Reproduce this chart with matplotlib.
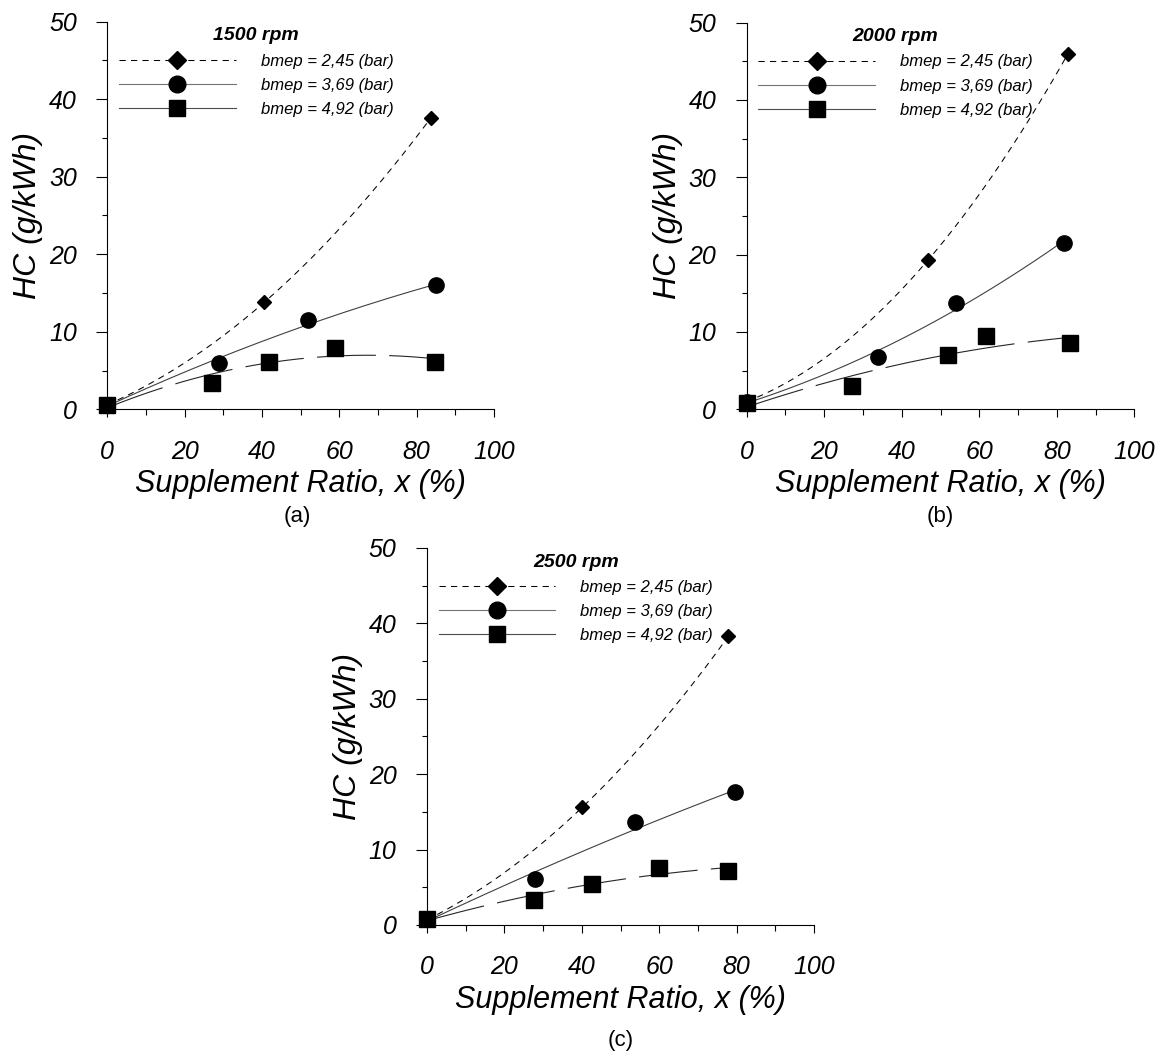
import numpy as np
import matplotlib.pyplot as plt
from matplotlib.lines import Line2D
from matplotlib.ticker import MultipleLocator

plt.rcParams['font.family'] = ['Liberation Sans', 'DejaVu Sans']

# ================================
# Datos
# ================================
rpm_titles = ["1500 rpm", "2000 rpm", "2500 rpm"]
panel_tags = ["(a)", "(b)", "(c)"]
bmep_labels = ["bmep = 2,45 (bar)", "bmep = 3,69 (bar)", "bmep = 4,92 (bar)"]

# 1500 rpm
x_1500_245 = [0, 40.6, 83.7]
hc_1500_245 = [0.6, 13.8, 37.6]
x_1500_369 = [0, 29.0, 51.9, 85.1]
hc_1500_369 = [0.6, 6.0, 11.5, 16.0]
x_1500_492 = [0, 27.0, 41.7, 58.8, 84.8]
hc_1500_492 = [0.6, 3.4, 6.1, 7.9, 6.1]

# 2000 rpm
x_2000_245 = [0, 46.8, 82.8]
hc_2000_245 = [1.0, 19.3, 45.9]
x_2000_369 = [0, 33.8, 53.9, 81.8]
hc_2000_369 = [1.0, 6.7, 13.8, 21.5]
x_2000_492 = [0, 27.1, 51.8, 61.7, 83.5]
hc_2000_492 = [0.8, 3.0, 7.0, 9.5, 8.6]

# 2500 rpm
x_2500_245 = [0, 40.1, 77.9]
hc_2500_245 = [0.7, 15.6, 38.3]
x_2500_369 = [0, 27.8, 53.7, 79.7]
hc_2500_369 = [0.8, 6.1, 13.6, 17.6]
x_2500_492 = [0, 27.6, 42.6, 59.9, 77.7]
hc_2500_492 = [0.8, 3.3, 5.5, 7.5, 7.2]

paneles = [
    [(x_1500_245, hc_1500_245), (x_1500_369, hc_1500_369), (x_1500_492, hc_1500_492)],
    [(x_2000_245, hc_2000_245), (x_2000_369, hc_2000_369), (x_2000_492, hc_2000_492)],
    [(x_2500_245, hc_2500_245), (x_2500_369, hc_2500_369), (x_2500_492, hc_2500_492)],
]

# estilo de cada serie: marcador, tamano, linea, color, ancho
estilos = [
    dict(marker="D", ms=7, ls=(0, (6, 5)), color="k", lw=0.75),
    dict(marker="o", ms=11, ls="-", color="0.25", lw=0.8),
    dict(marker="s", ms=11, ls=(0, (53, 12)), color="0.15", lw=0.8),
]
legend_ls = [(0, (6, 5)), "-", "-"]
legend_ms = [9.5, 12, 12]
legend_color = ["k", "0.45", "0.3"]

posiciones = [
    [0.0923, 0.6128, 0.3328, 0.3667],
    [0.6426, 0.6128, 0.3336, 0.3659],
    [0.3675, 0.1249, 0.3330, 0.3567],
]
pos_tags = [(0.256, 0.511), (0.809, 0.511), (0.534, 0.016)]


def curva_ajuste(x, y):
    # ajuste de segundo orden (linea de tendencia del grafico original)
    coef = np.polyfit(x, y, 2)
    xs = np.linspace(min(x), max(x), 200)
    return xs, np.polyval(coef, xs)


fig = plt.figure(figsize=(11.62, 10.57), dpi=100)

for i in range(3):
    ax = fig.add_axes(posiciones[i])

    for (x, y), st in zip(paneles[i], estilos):
        xs, ys = curva_ajuste(x, y)
        ax.plot(xs, ys, ls=st["ls"], color=st["color"], lw=st["lw"], zorder=2)
        ax.plot(x, y, ls="none", marker=st["marker"], ms=st["ms"],
                color="k", clip_on=False, zorder=3)

    ax.set_xlim(0, 100)
    ax.set_ylim(0, 50)
    ax.spines["top"].set_visible(False)
    ax.spines["right"].set_visible(False)
    ax.spines["left"].set_linewidth(0.8)
    ax.spines["bottom"].set_linewidth(0.8)

    ax.xaxis.set_major_locator(MultipleLocator(20))
    ax.xaxis.set_minor_locator(MultipleLocator(10))
    ax.yaxis.set_major_locator(MultipleLocator(10))
    ax.yaxis.set_minor_locator(MultipleLocator(5))

    ax.tick_params(axis="y", which="major", length=8, width=0.8, pad=14, labelsize=18)
    ax.tick_params(axis="y", which="minor", length=3.6, width=0.8)
    ax.tick_params(axis="x", which="major", length=5.8, width=0.8, pad=16, labelsize=18)
    ax.tick_params(axis="x", which="minor", length=4, width=0.8)
    for lbl in ax.get_xticklabels() + ax.get_yticklabels():
        lbl.set_fontstyle("italic")

    ax.set_xlabel("Supplement Ratio, x (%)", fontsize=22, fontstyle="italic", labelpad=4)
    ax.set_ylabel("HC (g/kWh)", fontsize=23, fontstyle="italic", labelpad=4)

    handles = []
    for st, lls, lms, lc in zip(estilos, legend_ls, legend_ms, legend_color):
        handles.append(Line2D([], [], ls=lls, color=lc, lw=st["lw"],
                              marker=st["marker"], ms=lms, markerfacecolor="k",
                              markeredgecolor="k"))
    ax.legend(handles, bmep_labels, loc="upper left", bbox_to_anchor=(0.03, 0.985),
              frameon=False, prop={"style": "italic", "size": 12},
              handlelength=7.0, handletextpad=1.5, labelspacing=0.55,
              borderpad=0, borderaxespad=0, title=rpm_titles[i],
              title_fontproperties={"weight": "bold", "style": "italic", "size": 14})

    fig.text(pos_tags[i][0], pos_tags[i][1], panel_tags[i], ha="center", va="center", fontsize=16)

fig.savefig("out.png", dpi=100)
